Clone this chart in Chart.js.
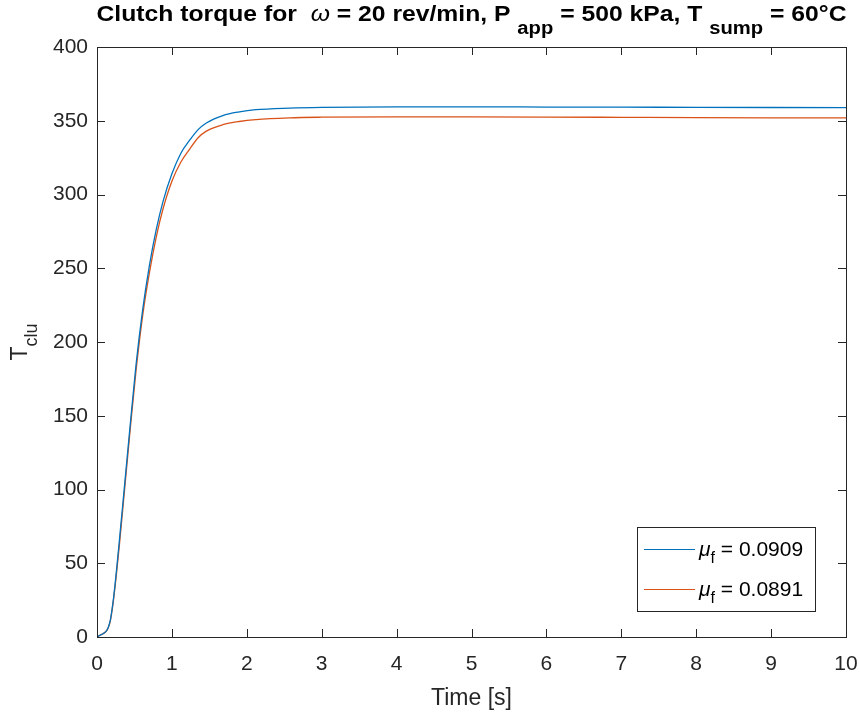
<!DOCTYPE html>
<html>
<head>
<meta charset="utf-8">
<script src="https://cdn.jsdelivr.net/npm/chart.js@4.4.1/dist/chart.umd.min.js"></script>
<style>
  html, body { margin: 0; padding: 0; background: #ffffff; }
  #c { display: block; }
</style>
</head>
<body>
<canvas id="c" width="860" height="716"></canvas>
<script>
// time (s)
const tiempo = [0, 0.04, 0.08, 0.12, 0.15, 0.18, 0.22, 0.26, 0.3, 0.35, 0.44, 0.52, 0.61, 0.7, 0.79, 0.88, 1.0, 1.12, 1.24, 1.35, 1.46, 1.68, 1.9, 2.12, 2.57, 3, 4, 5, 6, 7, 8, 9, 10];
// clutch torque, mu_f = 0.0909
const torqueMu0909 = [0, 1.2, 2.2, 3.8, 6.5, 12, 26, 45, 66, 93, 142, 184, 222, 252, 276, 295, 314, 328, 337, 344, 348.5, 353.5, 356, 357.5, 358.6, 359.1, 359.4, 359.4, 359.3, 359.2, 359.1, 359.0, 358.9];
// clutch torque, mu_f = 0.0891
const torqueMu0891 = [0, 1.2, 2.2, 3.7, 6.2, 11.5, 25, 43, 63, 90, 139, 180, 218, 247, 271, 290, 309, 322, 331, 338.5, 343, 347.3, 349.5, 350.8, 352, 352.4, 352.6, 352.6, 352.5, 352.3, 352.1, 352.0, 351.9];

const xTicks = [0, 1, 2, 3, 4, 5, 6, 7, 8, 9, 10];
const yTicks = [0, 50, 100, 150, 200, 250, 300, 350, 400];
const legendMu = ['0.0909', '0.0891'];

const colAxis = '#262626';
const fontFam = '"Liberation Sans", Arial, Helvetica, sans-serif';

function puntos(ys) {
    return tiempo.map((t, i) => ({ x: t, y: ys[i] }));
}

// draws a list of text pieces one after another
function textoRico(ctx, piezas, x, y) {
    let cx = x;
    piezas.forEach(p => {
        ctx.font = p.font;
        ctx.fillText(p.t, cx, y + (p.dy || 0));
        cx += ctx.measureText(p.t).width + (p.gap || 0);
    });
    return cx - x;
}
function anchoRico(ctx, piezas) {
    let w = 0;
    piezas.forEach(p => { ctx.font = p.font; w += ctx.measureText(p.t).width + (p.gap || 0); });
    return w;
}

const marcoPlugin = {
    id: 'marco',
    afterDraw(chart) {
        const ctx = chart.ctx;
        const a = chart.chartArea;
        const sx = chart.scales.x, sy = chart.scales.y;
        ctx.save();
        ctx.strokeStyle = colAxis;
        ctx.lineWidth = 1;
        // box
        ctx.strokeRect(Math.round(a.left) + 0.5, Math.round(a.top) + 0.5, Math.round(a.right - a.left), Math.round(a.bottom - a.top));
        // inward ticks
        const tl = 8;
        ctx.beginPath();
        xTicks.forEach(v => {
            const px = Math.round(sx.getPixelForValue(v)) + 0.5;
            ctx.moveTo(px, a.bottom); ctx.lineTo(px, a.bottom - tl);
            ctx.moveTo(px, a.top); ctx.lineTo(px, a.top + tl);
        });
        yTicks.forEach(v => {
            const py = Math.round(sy.getPixelForValue(v)) + 0.5;
            ctx.moveTo(a.left, py); ctx.lineTo(a.left + tl, py);
            ctx.moveTo(a.right, py); ctx.lineTo(a.right - tl, py);
        });
        ctx.stroke();

        ctx.fillStyle = '#000000';
        ctx.textBaseline = 'alphabetic';
        ctx.textAlign = 'left';

        // title
        const fb = 'bold 22px ' + fontFam;
        const fs = 'bold 18px ' + fontFam;
        const titulo = [
            { t: 'Clutch torque for  ', font: fb },
            { t: 'ω', font: 'italic 22px ' + fontFam },
            { t: ' = 20 rev/min, P ', font: fb },
            { t: 'app', font: fs, dy: 13 },
            { t: ' = 500 kPa, T ', font: fb },
            { t: 'sump', font: fs, dy: 13 },
            { t: ' = 60°C', font: fb }
        ];
        const wT = anchoRico(ctx, titulo);
        const objetivo = 750;
        ctx.save();
        ctx.translate((a.left + a.right) / 2 - objetivo / 2, 21);
        ctx.scale(objetivo / wT, 1);
        textoRico(ctx, titulo, 0, 0);
        ctx.restore();

        // x label
        ctx.fillStyle = colAxis;
        ctx.font = '23px ' + fontFam;
        ctx.textAlign = 'center';
        ctx.fillText('Time [s]', (a.left + a.right) / 2, 705);

        // y label
        ctx.save();
        ctx.translate(27, (a.top + a.bottom) / 2);
        ctx.rotate(-Math.PI / 2);
        ctx.textAlign = 'left';
        const yl = [
            { t: 'T', font: '23px ' + fontFam },
            { t: 'clu', font: '18px ' + fontFam, dy: 10 }
        ];
        const wY = anchoRico(ctx, yl);
        textoRico(ctx, yl, -wY / 2, 0);
        ctx.restore();

        // legend
        const lx = 637, ly = 527, lw = 178, lh = 84;
        ctx.fillStyle = '#ffffff';
        ctx.fillRect(lx, ly, lw, lh);
        ctx.strokeStyle = colAxis;
        ctx.strokeRect(lx + 0.5, ly + 0.5, lw, lh);
        const filas = [549, 589];
        chart.data.datasets.forEach((ds, i) => {
            const fy = filas[i];
            ctx.strokeStyle = ds.borderColor;
            ctx.lineWidth = 1;
            ctx.beginPath();
            ctx.moveTo(644, fy + 0.5); ctx.lineTo(695, fy + 0.5);
            ctx.stroke();
            ctx.fillStyle = '#000000';
            ctx.textAlign = 'left';
            textoRico(ctx, [
                { t: 'μ', font: 'italic 21px ' + fontFam },
                { t: 'f', font: '16px ' + fontFam, dy: 7 },
                { t: ' = ' + legendMu[i], font: '21px ' + fontFam }
            ], 699, fy + 7);
        });
        ctx.restore();
    }
};

new Chart(document.getElementById('c').getContext('2d'), {
    type: 'line',
    data: {
        datasets: [
            {
                label: 'mu_f = ' + legendMu[0],
                data: puntos(torqueMu0909),
                borderColor: '#0072BD',
                borderWidth: 1.3,
                pointRadius: 0,
                cubicInterpolationMode: 'monotone',
                fill: false
            },
            {
                label: 'mu_f = ' + legendMu[1],
                data: puntos(torqueMu0891),
                borderColor: '#D95319',
                borderWidth: 1.3,
                pointRadius: 0,
                cubicInterpolationMode: 'monotone',
                fill: false
            }
        ]
    },
    options: {
        responsive: false,
        animation: false,
        devicePixelRatio: 1,
        layout: { padding: { top: 47, right: 14, left: 0, bottom: 0 } },
        plugins: {
            legend: { display: false },
            title: { display: false },
            tooltip: { enabled: false }
        },
        scales: {
            x: {
                type: 'linear',
                min: 0, max: 10,
                grid: { display: false, drawTicks: false },
                border: { display: false },
                afterFit: s => { s.height = 79; s.paddingLeft = 0; s.paddingRight = 0; },
                afterBuildTicks: s => { s.ticks = xTicks.map(v => ({ value: v })); },
                ticks: {
                    padding: 15,
                    color: colAxis,
                    maxRotation: 0,
                    autoSkip: false,
                    font: { size: 21, family: fontFam }
                }
            },
            y: {
                type: 'linear',
                min: 0, max: 400,
                grid: { display: false, drawTicks: false },
                border: { display: false },
                afterFit: s => { s.width = 97; s.paddingTop = 0; s.paddingBottom = 0; },
                afterBuildTicks: s => { s.ticks = yTicks.map(v => ({ value: v })); },
                ticks: {
                    padding: 9,
                    color: colAxis,
                    autoSkip: false,
                    font: { size: 21, family: fontFam }
                }
            }
        }
    },
    plugins: [marcoPlugin]
});
</script>
</body>
</html>
